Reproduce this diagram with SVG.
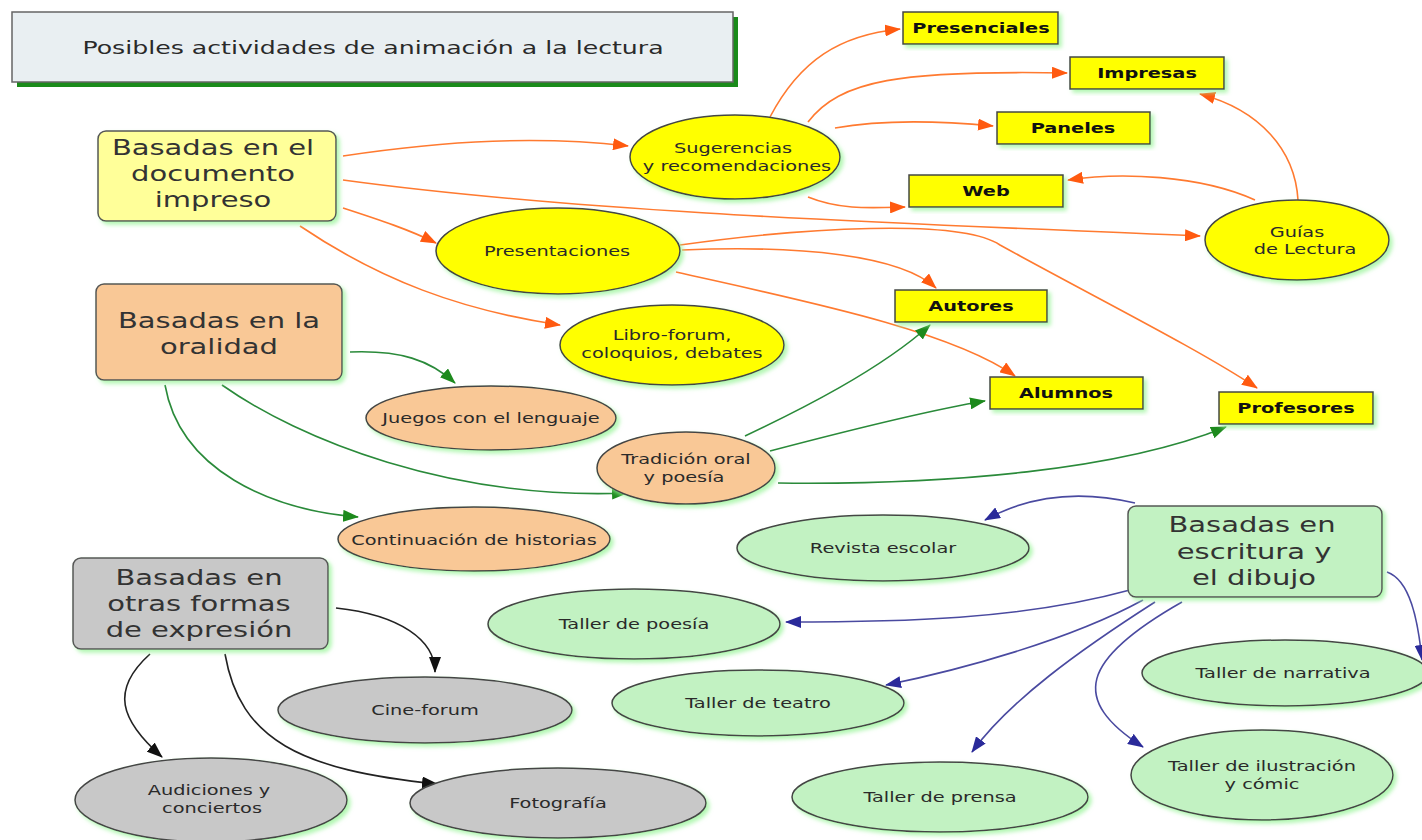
<svg xmlns="http://www.w3.org/2000/svg" width="1422" height="840" viewBox="0 0 1422 840">
<defs>
<filter id="glow" x="-10%" y="-10%" width="125%" height="130%">
<feDropShadow dx="3" dy="3" stdDeviation="2" flood-color="#9ef59e" flood-opacity="0.8"/>
</filter>
<marker id="ao" markerWidth="16" markerHeight="12" refX="15" refY="6" orient="auto" markerUnits="userSpaceOnUse"><path d="M0,0 L16,6 L0,12 Z" fill="#ff5a10"/></marker>
<marker id="ag" markerWidth="16" markerHeight="12" refX="15" refY="6" orient="auto" markerUnits="userSpaceOnUse"><path d="M0,0 L16,6 L0,12 Z" fill="#1d8a1d"/></marker>
<marker id="ab" markerWidth="16" markerHeight="12" refX="15" refY="6" orient="auto" markerUnits="userSpaceOnUse"><path d="M0,0 L16,6 L0,12 Z" fill="#2a2a9a"/></marker>
<marker id="ak" markerWidth="16" markerHeight="12" refX="15" refY="6" orient="auto" markerUnits="userSpaceOnUse"><path d="M0,0 L16,6 L0,12 Z" fill="#111"/></marker>
</defs>
<style>
text{font-family:"DejaVu Sans","Verdana",sans-serif;fill:#2a2a2a;text-anchor:middle}
.big{font-size:21px;fill:#333}
.sm{font-size:14px}
.bold{font-size:14px;font-weight:bold;fill:#111}
.box{stroke:#555;stroke-width:1.5;filter:url(#glow)}
.ell{stroke:#444;stroke-width:1.5;filter:url(#glow)}
.yl{fill:#ffff00;stroke:#444;stroke-width:1.5;filter:url(#glow)}
.o{fill:none;stroke:#ff7a30;stroke-width:1.6;marker-end:url(#ao)}
.g{fill:none;stroke:#2a8a3a;stroke-width:1.6;marker-end:url(#ag)}
.b{fill:none;stroke:#4a4aa0;stroke-width:1.6;marker-end:url(#ab)}
.k{fill:none;stroke:#222;stroke-width:1.6;marker-end:url(#ak)}
</style>
<rect width="1422" height="840" fill="#ffffff"/>

<g id="connectors">
<path class="o" d="M343,156 C450,140 540,136 628,146"/>
<path class="o" d="M343,180 C600,215 950,225 1200,236"/>
<path class="o" d="M343,208 C380,220 410,230 436,243"/>
<path class="o" d="M300,226 C380,280 460,310 560,325"/>
<path class="o" d="M770,117 C800,60 840,35 900,29"/>
<path class="o" d="M808,122 C840,80 900,70 1067,73"/>
<path class="o" d="M835,128 C880,120 930,120 993,126"/>
<path class="o" d="M808,197 C840,210 870,208 905,207"/>
<path class="o" d="M680,245 C800,228 960,218 1000,245 C1100,300 1200,350 1257,388"/>
<path class="o" d="M682,250 C800,245 900,255 936,288"/>
<path class="o" d="M676,272 C800,300 950,330 1015,376"/>
<path class="o" d="M1298,200 C1295,150 1260,110 1200,94"/>
<path class="o" d="M1255,200 C1200,175 1120,172 1068,180"/>

<path class="g" d="M350,352 C400,350 430,360 455,383"/>
<path class="g" d="M222,385 C300,440 450,500 627,493"/>
<path class="g" d="M165,385 C180,470 270,510 358,517"/>
<path class="g" d="M745,436 C800,410 880,370 930,325"/>
<path class="g" d="M770,451 C850,430 930,410 985,401"/>
<path class="g" d="M778,483 C950,485 1120,470 1226,427"/>

<path class="b" d="M1135,503 C1080,490 1030,495 985,520"/>
<path class="b" d="M1130,590 C1020,620 900,622 786,622"/>
<path class="b" d="M1143,600 C1070,640 960,670 886,685"/>
<path class="b" d="M1155,602 C1080,650 1010,700 972,752"/>
<path class="b" d="M1182,602 C1080,660 1070,700 1143,747"/>
<path class="b" d="M1387,572 C1410,580 1418,620 1422,660"/>

<path class="k" d="M336,608 C400,615 435,640 435,672"/>
<path class="k" d="M150,654 C110,690 120,720 162,757"/>
<path class="k" d="M225,654 C240,740 300,770 437,784"/>
</g>

<g id="title">
<rect x="17" y="17" width="721" height="70" fill="#1a8a1a"/>
<rect x="12" y="12" width="721" height="70" fill="#e9eff2" stroke="#666" stroke-width="1.5"/>
<text transform="translate(373 0) scale(1.4 1)" y="54" style="font-size:18px">Posibles actividades de animación a la lectura</text>
</g>

<g id="n-impreso">
<rect class="box" x="98" y="131" width="238" height="90" rx="8" fill="#ffff99"/>
<text class="big" transform="translate(213 0) scale(1.38 1)" y="155">Basadas en el</text>
<text class="big" transform="translate(213 0) scale(1.38 1)" y="181">documento</text>
<text class="big" transform="translate(213 0) scale(1.38 1)" y="207">impreso</text>
</g>
<g id="n-oralidad">
<rect class="box" x="96" y="284" width="246" height="96" rx="8" fill="#f9c896"/>
<text class="big" transform="translate(219 0) scale(1.38 1)" y="328">Basadas en la</text>
<text class="big" transform="translate(219 0) scale(1.38 1)" y="354">oralidad</text>
</g>
<g id="n-otras">
<rect class="box" x="73" y="558" width="255" height="91" rx="8" fill="#c8c8c8"/>
<text class="big" transform="translate(199 0) scale(1.38 1)" y="585">Basadas en</text>
<text class="big" transform="translate(199 0) scale(1.38 1)" y="611">otras formas</text>
<text class="big" transform="translate(199 0) scale(1.38 1)" y="637">de expresión</text>
</g>
<g id="n-escritura">
<rect class="box" x="1128" y="506" width="254" height="91" rx="8" fill="#c2f2c2"/>
<text class="big" transform="translate(1252 0) scale(1.38 1)" y="532">Basadas en</text>
<text class="big" transform="translate(1254 0) scale(1.38 1)" y="559">escritura y</text>
<text class="big" transform="translate(1254 0) scale(1.38 1)" y="585">el dibujo</text>
</g>

<g id="n-sugerencias"><ellipse class="ell" cx="735" cy="157" rx="105" ry="42" fill="#ffff00"/><text class="sm" transform="translate(733 0) scale(1.38 1)" y="153">Sugerencias</text><text class="sm" transform="translate(737 0) scale(1.38 1)" y="171">y recomendaciones</text></g>
<g id="n-presentaciones"><ellipse class="ell" cx="558" cy="251" rx="122" ry="43" fill="#ffff00"/><text class="sm" transform="translate(557 0) scale(1.38 1)" y="256">Presentaciones</text></g>
<g id="n-libro"><ellipse class="ell" cx="672" cy="345" rx="112" ry="40" fill="#ffff00"/><text class="sm" transform="translate(672 0) scale(1.38 1)" y="340">Libro-forum,</text><text class="sm" transform="translate(672 0) scale(1.38 1)" y="358">coloquios, debates</text></g>
<g id="n-guias"><ellipse class="ell" cx="1297" cy="240" rx="92" ry="40" fill="#ffff00"/><text class="sm" transform="translate(1297 0) scale(1.38 1)" y="237">Guías</text><text class="sm" transform="translate(1305 0) scale(1.38 1)" y="254">de Lectura</text></g>

<g id="n-presenciales"><rect class="yl" x="903" y="12" width="155" height="32"/><text class="bold" transform="translate(981 0) scale(1.38 1)" y="33">Presenciales</text></g>
<g id="n-impresas"><rect class="yl" x="1070" y="57" width="154" height="32"/><text class="bold" transform="translate(1147 0) scale(1.38 1)" y="78">Impresas</text></g>
<g id="n-paneles"><rect class="yl" x="997" y="112" width="153" height="32"/><text class="bold" transform="translate(1073 0) scale(1.38 1)" y="133">Paneles</text></g>
<g id="n-web"><rect class="yl" x="909" y="175" width="154" height="32"/><text class="bold" transform="translate(986 0) scale(1.38 1)" y="196">Web</text></g>
<g id="n-autores"><rect class="yl" x="895" y="290" width="152" height="32"/><text class="bold" transform="translate(971 0) scale(1.38 1)" y="311">Autores</text></g>
<g id="n-alumnos"><rect class="yl" x="990" y="377" width="153" height="32"/><text class="bold" transform="translate(1066 0) scale(1.38 1)" y="398">Alumnos</text></g>
<g id="n-profesores"><rect class="yl" x="1219" y="392" width="154" height="32"/><text class="bold" transform="translate(1296 0) scale(1.38 1)" y="413">Profesores</text></g>

<g id="n-juegos"><ellipse class="ell" cx="491" cy="418" rx="125" ry="32" fill="#f9c896"/><text class="sm" transform="translate(491 0) scale(1.38 1)" y="423">Juegos con el lenguaje</text></g>
<g id="n-tradicion"><ellipse class="ell" cx="686" cy="468" rx="89" ry="36" fill="#f9c896"/><text class="sm" transform="translate(686 0) scale(1.38 1)" y="464">Tradición oral</text><text class="sm" transform="translate(684 0) scale(1.38 1)" y="482">y poesía</text></g>
<g id="n-continuacion"><ellipse class="ell" cx="474" cy="539" rx="136" ry="32" fill="#f9c896"/><text class="sm" transform="translate(474 0) scale(1.38 1)" y="545">Continuación de historias</text></g>

<g id="n-revista"><ellipse class="ell" cx="883" cy="548" rx="146" ry="33" fill="#c2f2c2"/><text class="sm" transform="translate(883 0) scale(1.38 1)" y="553">Revista escolar</text></g>
<g id="n-poesia"><ellipse class="ell" cx="634" cy="624" rx="146" ry="35" fill="#c2f2c2"/><text class="sm" transform="translate(634 0) scale(1.38 1)" y="629">Taller de poesía</text></g>
<g id="n-teatro"><ellipse class="ell" cx="758" cy="703" rx="146" ry="33" fill="#c2f2c2"/><text class="sm" transform="translate(758 0) scale(1.38 1)" y="708">Taller de teatro</text></g>
<g id="n-narrativa"><ellipse class="ell" cx="1285" cy="673" rx="143" ry="33" fill="#c2f2c2"/><text class="sm" transform="translate(1283 0) scale(1.38 1)" y="678">Taller de narrativa</text></g>
<g id="n-ilustracion"><ellipse class="ell" cx="1262" cy="775" rx="131" ry="45" fill="#c2f2c2"/><text class="sm" transform="translate(1262 0) scale(1.38 1)" y="771">Taller de ilustración</text><text class="sm" transform="translate(1262 0) scale(1.38 1)" y="789">y cómic</text></g>
<g id="n-prensa"><ellipse class="ell" cx="940" cy="797" rx="148" ry="35" fill="#c2f2c2"/><text class="sm" transform="translate(940 0) scale(1.38 1)" y="802">Taller de prensa</text></g>

<g id="n-cine"><ellipse class="ell" cx="425" cy="710" rx="147" ry="33" fill="#c8c8c8"/><text class="sm" transform="translate(425 0) scale(1.38 1)" y="715">Cine-forum</text></g>
<g id="n-audiciones"><ellipse class="ell" cx="211" cy="800" rx="136" ry="42" fill="#c8c8c8"/><text class="sm" transform="translate(209 0) scale(1.38 1)" y="795">Audiciones y</text><text class="sm" transform="translate(212 0) scale(1.38 1)" y="813">conciertos</text></g>
<g id="n-fotografia"><ellipse class="ell" cx="558" cy="803" rx="148" ry="35" fill="#c8c8c8"/><text class="sm" transform="translate(558 0) scale(1.38 1)" y="808">Fotografía</text></g>
</svg>
